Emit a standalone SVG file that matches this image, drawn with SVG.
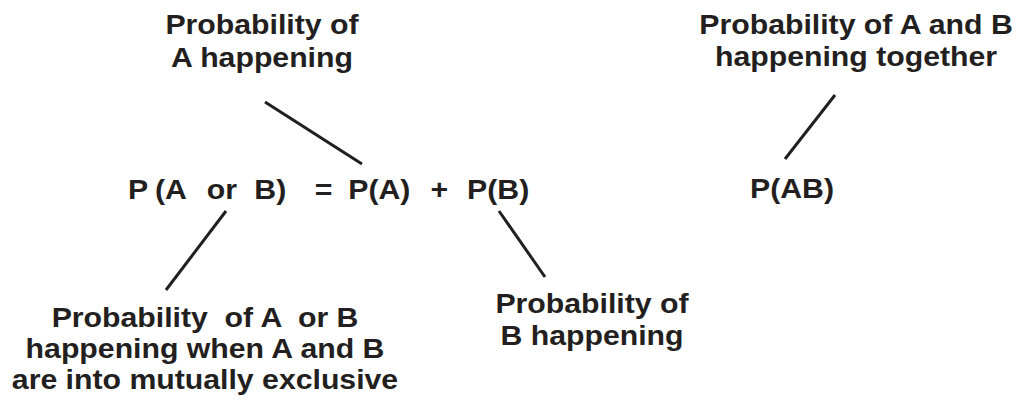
<svg xmlns="http://www.w3.org/2000/svg" width="1021" height="401" viewBox="0 0 1021 401">
  <style>
    text { font-family: "Liberation Sans", Arial, sans-serif; font-weight: bold; font-size: 28px; fill: #231f20; }
    .c { text-anchor: middle; }
    .pre { white-space: pre; }
    .conn line { stroke: #231f20; stroke-width: 3; stroke-linecap: butt; }
  </style>
  <rect width="1021" height="401" fill="#ffffff"/>
  <g id="connectors" class="conn">
    <line x1="265" y1="102" x2="362" y2="164"/>
    <line x1="226" y1="211" x2="166" y2="290"/>
    <line x1="499" y1="211" x2="545" y2="277"/>
    <line x1="835" y1="95" x2="785" y2="159"/>
  </g>
  <g id="label-pa" transform="translate(262,0) scale(1.08,1)">
    <text class="c" x="0" y="34">Probability of</text>
    <text class="c" x="0" y="67">A happening</text>
  </g>
  <g id="equation" transform="translate(128,199) scale(1.08,1)">
    <text x="0" y="0">P</text>
    <text x="25" y="0">(A</text>
    <text x="73" y="0">or</text>
    <text x="117" y="0">B)</text>
    <text x="173" y="0">=</text>
    <text x="204" y="0">P(A)</text>
    <text x="280" y="0">+</text>
    <text x="314" y="0">P(B)</text>
  </g>
  <g id="label-aorb" transform="translate(205,0) scale(1.08,1)">
    <text class="c pre" x="0" y="327" xml:space="preserve">Probability  of A  or B</text>
    <text class="c" x="0" y="358">happening when A and B</text>
    <text class="c" x="0" y="389">are into mutually exclusive</text>
  </g>
  <g id="label-pb" transform="translate(592,0) scale(1.08,1)">
    <text class="c" x="0" y="313">Probability of</text>
    <text class="c" x="0" y="345">B happening</text>
  </g>
  <g id="label-ab" transform="translate(856,0) scale(1.08,1)">
    <text class="c" x="0" y="34">Probability of A and B</text>
    <text class="c" x="0" y="66">happening together</text>
  </g>
  <g id="pab" transform="translate(792,198) scale(1.08,1)">
    <text class="c" x="0" y="0">P(AB)</text>
  </g>
</svg>
